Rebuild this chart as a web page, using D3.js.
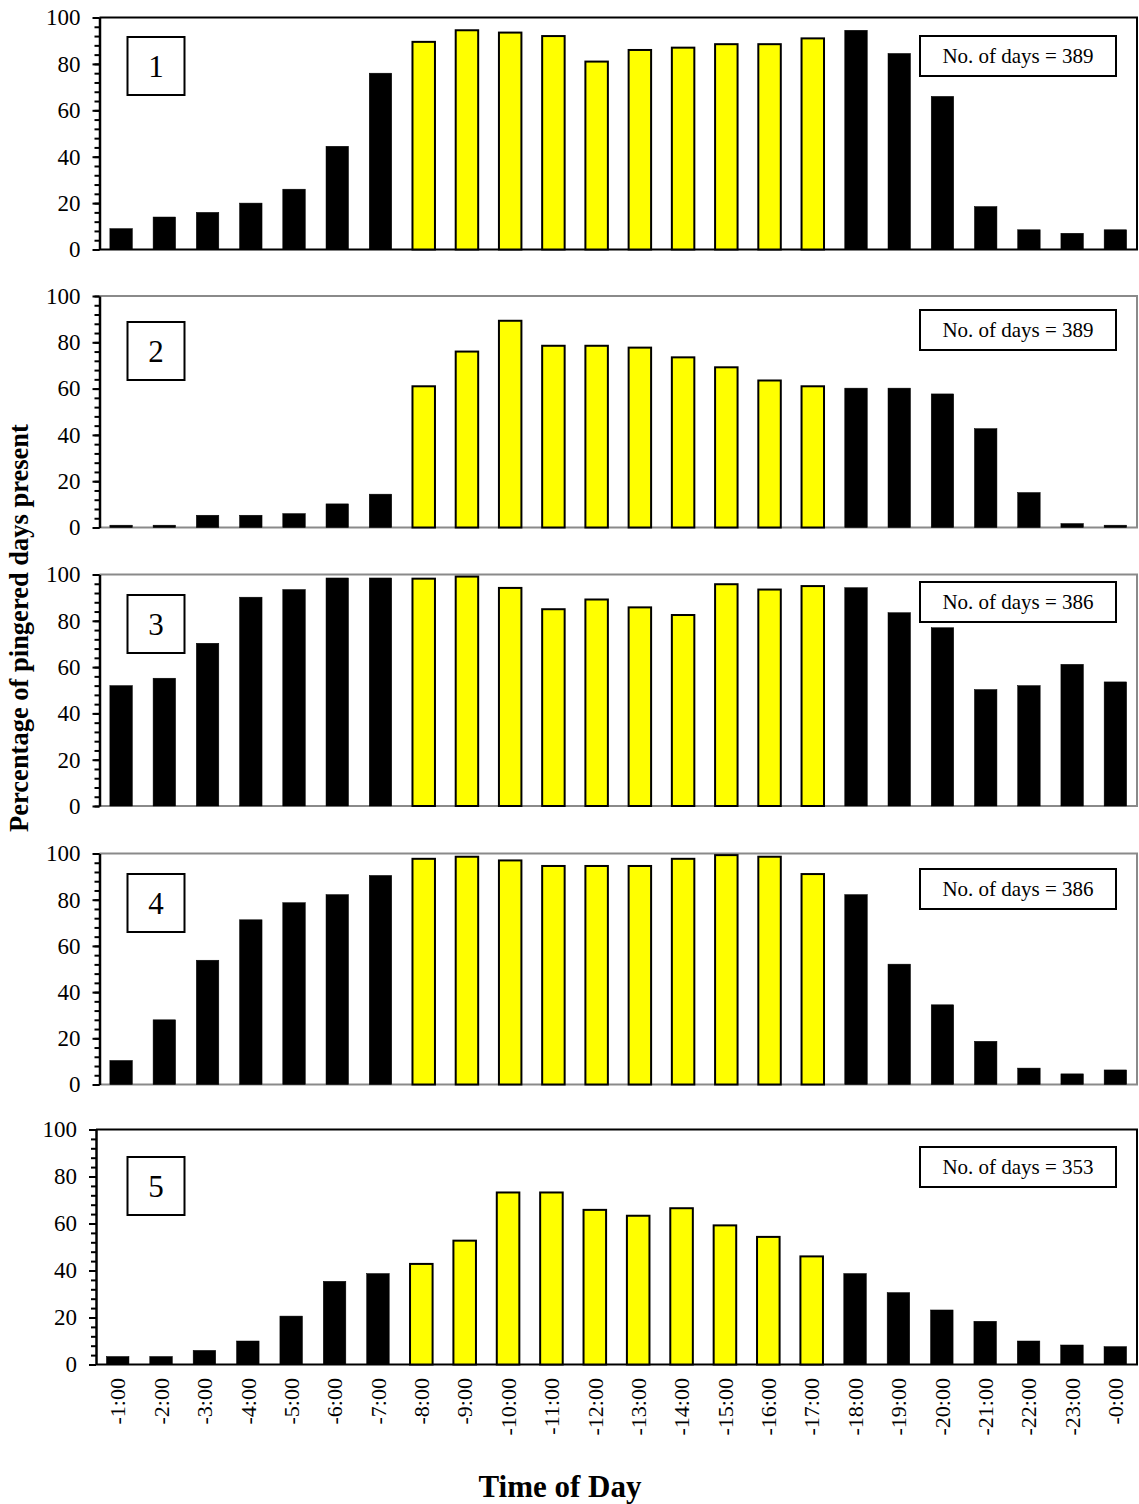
<!DOCTYPE html>
<html>
<head>
<meta charset="utf-8">
<script src="https://cdn.jsdelivr.net/npm/d3@7"></script>
<style>
  html, body { margin: 0; padding: 0; background: #fff; }
  svg { display: block; font-family: "Liberation Serif", "Times New Roman", serif; }
</style>
</head>
<body>
<svg id="chart" width="1139" height="1504"></svg>
<script>
// Hour-of-day categories (x axis)
const hours = ["-1:00", "-2:00", "-3:00", "-4:00", "-5:00", "-6:00", "-7:00", "-8:00",
  "-9:00", "-10:00", "-11:00", "-12:00", "-13:00", "-14:00", "-15:00", "-16:00",
  "-17:00", "-18:00", "-19:00", "-20:00", "-21:00", "-22:00", "-23:00", "-0:00"];

// Hours drawn in yellow (daytime)
const daytimeHours = ["-8:00", "-9:00", "-10:00", "-11:00", "-12:00", "-13:00",
  "-14:00", "-15:00", "-16:00", "-17:00"];

// Percentage of pingered days present, one series per station
const station1 = [9, 14, 16, 20, 26, 44.5, 76, 89.5, 94.5, 93.5, 92, 81, 86, 87, 88.5, 88.5, 91, 94.5, 84.5, 66, 18.5, 8.5, 7, 8.5];
const station2 = [1, 1, 5.3, 5.3, 6, 10.2, 14.4, 61, 76, 89.3, 78.5, 78.5, 77.7, 73.5, 69.2, 63.5, 61, 60.2, 60.2, 57.7, 42.7, 15.1, 1.7, 1];
const station3 = [52, 55.2, 70.3, 90.2, 93.5, 98.5, 98.5, 98.2, 99.1, 94.2, 85, 89.2, 85.8, 82.5, 95.8, 93.5, 95, 94.3, 83.5, 77, 50.3, 52, 61.2, 53.6];
const station4 = [10.4, 28, 53.8, 71.3, 78.7, 82.2, 90.5, 97.7, 98.6, 97, 94.6, 94.6, 94.6, 97.7, 99.3, 98.6, 91.1, 82.2, 52.1, 34.5, 18.7, 7.1, 4.6, 6.3];
const station5 = [3.4, 3.4, 6, 10, 20.6, 35.4, 38.7, 42.8, 52.7, 73.2, 73.2, 65.8, 63.3, 66.5, 59.2, 54.3, 46, 38.7, 30.6, 23.2, 18.4, 10, 8.3, 7.6];

const seriesList = [station1, station2, station3, station4, station5];
const panelNames = ["1", "2", "3", "4", "5"];
const dayCounts = [389, 389, 386, 386, 353];

// Y axis ticks
const yMajorTicks = [0, 20, 40, 60, 80, 100];
const yMinorTicks = d3.range(0, 101, 4);

// Panel geometry and frame styling
const panelLayout = [
  { top: 17.5,  bottom: 249.5,  left: 99.5, frame: "#000", nameY: 37,  daysY: 36 },
  { top: 296,   bottom: 527.5,  left: 99.5, frame: "#8a8a8a", nameY: 322, daysY: 310 },
  { top: 574.5, bottom: 806,    left: 99.5, frame: "#8a8a8a", nameY: 595, daysY: 582 },
  { top: 853.5, bottom: 1084.5, left: 99.5, frame: "#8a8a8a", nameY: 874, daysY: 869 },
  { top: 1129.5, bottom: 1364.5, left: 96,  frame: "#000", nameY: 1157, daysY: 1147 }
];
const plotRight = 1137;

const svg = d3.select("#chart");
svg.append("rect").attr("width", 1139).attr("height", 1504).attr("fill", "#fff");

seriesList.forEach((values, p) => {
  const L = panelLayout[p];
  const x = d3.scaleBand().domain(hours).range([L.left, plotRight])
    .paddingInner(0.48).paddingOuter(0.24);
  const y = d3.scaleLinear().domain([0, 100]).range([L.bottom, L.top]);
  const g = svg.append("g");

  // plot frame: top, right, bottom
  g.append("path")
    .attr("d", `M${L.left},${L.top}H${plotRight}V${L.bottom}H${L.left}`)
    .attr("fill", "none").attr("stroke", L.frame).attr("stroke-width", 2);

  // bars
  const rows = hours.map((h, i) => ({ hour: h, value: values[i] }));
  g.selectAll("rect.bar").data(rows).join("rect")
    .attr("class", "bar")
    .attr("x", d => x(d.hour))
    .attr("width", x.bandwidth())
    .attr("y", d => y(d.value))
    .attr("height", d => y(0) - y(d.value))
    .attr("fill", d => daytimeHours.includes(d.hour) ? "#ffff00" : "#000")
    .attr("stroke", "#000")
    .attr("stroke-width", d => daytimeHours.includes(d.hour) ? 2 : 0.5);

  // minor ticks
  const minor = g.append("g").attr("transform", `translate(${L.left},0)`)
    .call(d3.axisLeft(y).tickValues(yMinorTicks).tickSize(5).tickFormat(""));
  minor.select(".domain").remove();
  minor.selectAll("line").attr("stroke", "#000").attr("stroke-width", 2);

  // major ticks, labels and axis line
  const major = g.append("g").attr("transform", `translate(${L.left},0)`)
    .call(d3.axisLeft(y).tickValues(yMajorTicks).tickSize(7).tickPadding(12).tickSizeOuter(0));
  major.select(".domain").attr("stroke", "#000").attr("stroke-width", 2.5);
  major.selectAll("line").attr("stroke", "#000").attr("stroke-width", 2);
  major.selectAll("text")
    .attr("font-family", "'Liberation Serif', 'Times New Roman', serif")
    .attr("font-size", 23).attr("fill", "#000");

  // station number box
  g.append("rect").attr("x", 127.5).attr("y", L.nameY).attr("width", 57).attr("height", 58)
    .attr("fill", "#fff").attr("stroke", "#000").attr("stroke-width", 2);
  g.append("text").attr("x", 156).attr("y", L.nameY + 29).attr("dy", "0.35em")
    .attr("text-anchor", "middle").attr("font-size", 31).text(panelNames[p]);

  // number-of-days box
  g.append("rect").attr("x", 920).attr("y", L.daysY).attr("width", 196).attr("height", 40)
    .attr("fill", "#fff").attr("stroke", "#000").attr("stroke-width", 2);
  g.append("text").attr("x", 1018).attr("y", L.daysY + 20).attr("dy", "0.35em")
    .attr("text-anchor", "middle").attr("font-size", 21)
    .text(`No. of days = ${dayCounts[p]}`);

  // hour labels under the bottom panel only
  if (p === seriesList.length - 1) {
    g.selectAll("text.hour").data(hours).join("text")
      .attr("class", "hour")
      .attr("transform", h => `translate(${x(h) + x.bandwidth() / 2},1378) rotate(-90)`)
      .attr("dy", "0.35em")
      .attr("text-anchor", "end")
      .attr("font-size", 22)
      .text(h => h);
  }
});

// axis titles
svg.append("text")
  .attr("transform", "translate(28,628) rotate(-90)")
  .attr("text-anchor", "middle").attr("font-weight", "bold").attr("font-size", 26.5)
  .text("Percentage of pingered days present");

svg.append("text")
  .attr("x", 560).attr("y", 1497)
  .attr("text-anchor", "middle").attr("font-weight", "bold").attr("font-size", 31)
  .text("Time of Day");
</script>
</body>
</html>
